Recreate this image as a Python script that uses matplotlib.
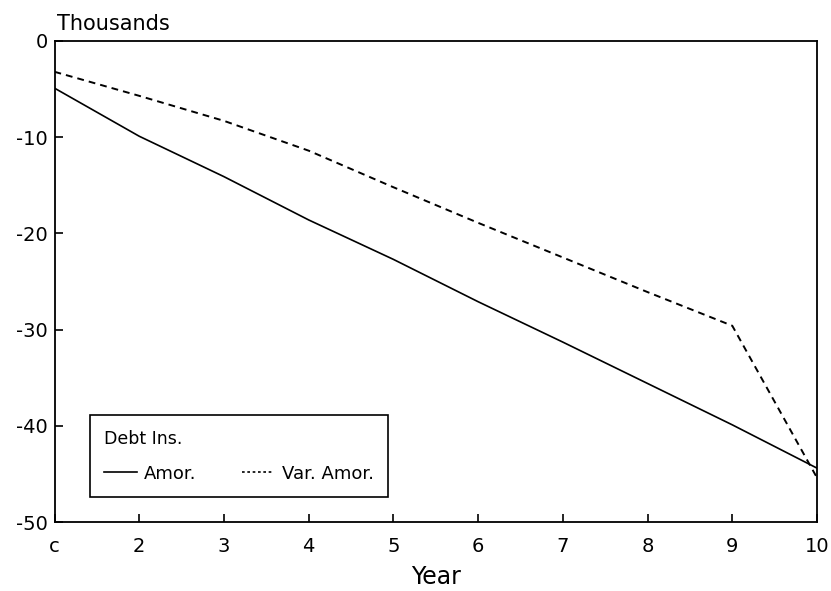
import matplotlib
matplotlib.use("Agg")
import matplotlib.pyplot as plt
from matplotlib.lines import Line2D

plt.rcParams['font.family'] = ['DejaVu Sans']

years = [1, 2, 3, 4, 5, 6, 7, 8, 9, 10]
tick_labels = ['c', '2', '3', '4', '5', '6', '7', '8', '9', '10']
amor = [-4.9, -9.9, -14.1, -18.6, -22.7, -27.1, -31.3, -35.6, -39.9, -44.4]
var_amor = [-3.2, -5.7, -8.3, -11.4, -15.2, -18.9, -22.5, -26.1, -29.6, -45.4]
yticks = [0, -10, -20, -30, -40, -50]

fig = plt.figure(figsize=(8.31, 5.91), dpi=100)
ax = fig.add_axes([54.5/831, 1-522/591, (817-54.5)/831, (522-41)/591])

ax.plot(years, amor, color='black', lw=1.2, solid_joinstyle='round')
ax.plot(years, var_amor, color='black', lw=1.4, dashes=(3.5, 2.6))

ax.set_xlim(1, 10)
ax.set_ylim(-50, 0)
ax.set_xticks(years)
ax.set_xticklabels(tick_labels)
ax.set_yticks(yticks)
ax.set_yticklabels([str(v) for v in yticks])
ax.tick_params(axis='both', direction='in', length=6, width=1.2, labelsize=14,
               top=False, right=False)
ax.tick_params(axis='x', pad=11)
ax.tick_params(axis='y', pad=5)
for s in ax.spines.values():
    s.set_linewidth(1.3)

ax.set_xlabel('Year', fontsize=17, labelpad=6)
fig.text(57/831, 1-30/591, 'Thousands', fontsize=15, ha='left', va='baseline')

handles = [Line2D([0], [0], color='black', lw=1.2),
           Line2D([0], [0], color='black', lw=1.2, dashes=(1.6, 1.6))]
leg = ax.legend(handles, ['Amor.', 'Var. Amor.'], ncol=2, title='Debt Ins.',
                loc='lower left',
                bbox_to_anchor=((90 - 54.5)/762.5, 25/481),
                alignment='left', fancybox=False, framealpha=1,
                edgecolor='black', fontsize=13, title_fontsize=12.5,
                handlelength=1.8, handletextpad=0.4, columnspacing=2.5,
                borderaxespad=0, borderpad=0.8, labelspacing=0.5)
leg.get_frame().set_linewidth(1.2)
leg._legend_box.sep = 12

fig.savefig('out.png', dpi=100, facecolor='white')
